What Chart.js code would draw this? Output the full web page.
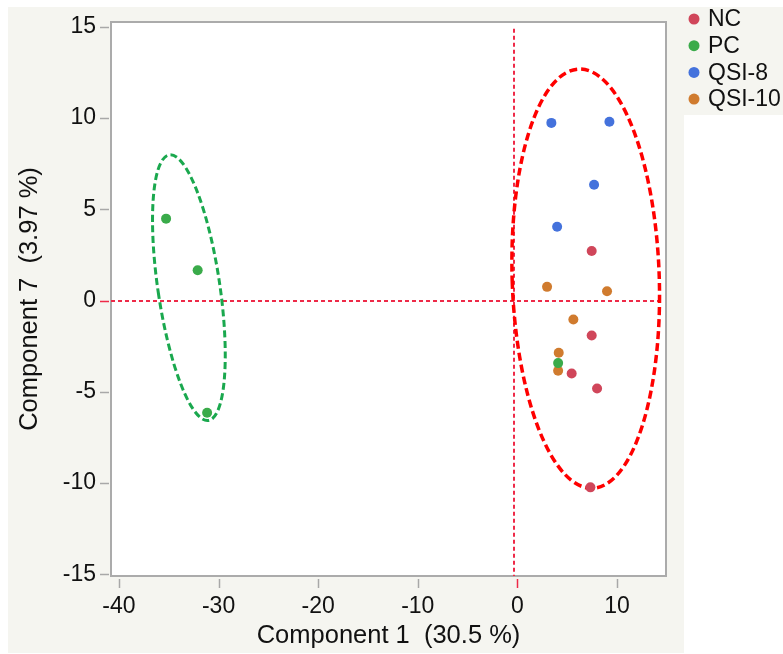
<!DOCTYPE html>
<html>
<head>
<meta charset="utf-8">
<script src="https://cdn.jsdelivr.net/npm/chart.js@4.4.1/dist/chart.umd.min.js"></script>
<style>
  html, body { margin: 0; padding: 0; background: #ffffff; }
  canvas { display: block; }
</style>
</head>
<body>
<canvas id="c" width="783" height="654"></canvas>
<script>
// ---- Data ----
const categories = ['NC', 'PC', 'QSI-8', 'QSI-10'];

const ncX = [7.46, 7.46, 5.45, 8.0, 7.33];
const ncY = [2.72, -1.92, -4.0, -4.82, -10.24];

const pcX = [-35.27, -32.1, -31.15, 4.09];
const pcY = [4.49, 1.66, -6.15, -3.43];

const qsi8X = [3.41, 9.24, 7.70, 3.99];
const qsi8Y = [9.74, 9.80, 6.35, 4.05];

const qsi10X = [2.98, 9.0, 5.62, 4.15, 4.09];
const qsi10Y = [0.75, 0.51, -1.04, -2.86, -3.85];

const xTicks = [-40, -30, -20, -10, 0, 10];
const yTicks = [-15, -10, -5, 0, 5, 10, 15];

// ellipses (center, major half-axis vector, minor half-axis vector), data units
const greenEllipseCenter = [-32.98, 0.71];
const greenEllipseMajor = [1.96, -7.28];
const greenEllipseMinor = [3.08, 0.246];

const redEllipseCenter = [6.86, 1.20];
const redEllipseMajor = [0.68, -11.49];
const redEllipseMinor = [7.38, 0.13];

// reference lines
const refLineX = -0.3;
const refLineXSpan = [-15.1, 14.9];
const refLineY = 0;
const refLineYSpan = [-40.8, 14.3];

// ---- Styles ----
const colors = ['#d0465a', '#3aab4a', '#4472dc', '#d07b2e'];
const FONT = '"Liberation Sans", Arial, Helvetica, sans-serif';
const TEXT = '#111111';

const seriesX = [ncX, pcX, qsi8X, qsi10X];
const seriesY = [ncY, pcY, qsi8Y, qsi10Y];

const datasets = categories.map((name, i) => ({
  label: name,
  data: seriesX[i].map((x, j) => ({ x: x, y: seriesY[i][j] })),
  backgroundColor: colors[i],
  borderColor: colors[i],
  borderWidth: 0,
  pointRadius: 5,
  pointHoverRadius: 5
}));

const bgPlugin = {
  id: 'bg',
  beforeDraw(chart) {
    const ctx = chart.ctx;
    const a = chart.chartArea;
    ctx.save();
    ctx.fillStyle = '#ffffff';
    ctx.fillRect(0, 0, chart.width, chart.height);
    ctx.fillStyle = '#f5f5f0';
    ctx.fillRect(8, 7, 676, 646);
    ctx.fillRect(684, 7, 99, 108);
    ctx.fillStyle = '#ffffff';
    ctx.fillRect(a.left, a.top, a.right - a.left, a.bottom - a.top);
    ctx.restore();
  }
};

function drawEllipse(chart, c, u, v, color, width, dash) {
  const xs = chart.scales.x, ys = chart.scales.y;
  const cx = xs.getPixelForValue(c[0]), cy = ys.getPixelForValue(c[1]);
  const ux = xs.getPixelForValue(c[0] + u[0]) - cx, uy = ys.getPixelForValue(c[1] + u[1]) - cy;
  const vx = xs.getPixelForValue(c[0] + v[0]) - cx, vy = ys.getPixelForValue(c[1] + v[1]) - cy;
  const ctx = chart.ctx;
  ctx.save();
  ctx.beginPath();
  ctx.save();
  ctx.transform(ux, uy, vx, vy, cx, cy);
  ctx.arc(0, 0, 1, -Math.PI / 2, Math.PI * 1.5);
  ctx.restore();
  ctx.strokeStyle = color;
  ctx.lineWidth = width;
  ctx.setLineDash(dash);
  ctx.stroke();
  ctx.restore();
}

const overlayPlugin = {
  id: 'overlay',
  beforeDatasetsDraw(chart) {
    const ctx = chart.ctx;
    const xs = chart.scales.x, ys = chart.scales.y;
    const a = chart.chartArea;
    // box border
    ctx.save();
    ctx.strokeStyle = '#ababab';
    ctx.lineWidth = 2;
    ctx.strokeRect(a.left, a.top, a.right - a.left, a.bottom - a.top);
    // tick marks
    ctx.lineWidth = 1.5;
    xTicks.forEach(v => {
      const px = Math.round(xs.getPixelForValue(v)) + 0.5;
      ctx.strokeStyle = v === 0 ? '#ee2a48' : '#a8a8a8';
      ctx.beginPath();
      ctx.moveTo(px, a.bottom + 3);
      ctx.lineTo(px, a.bottom + 12);
      ctx.stroke();
    });
    yTicks.forEach(v => {
      const py = Math.round(ys.getPixelForValue(v)) + 0.5;
      ctx.strokeStyle = v === 0 ? '#ee2a48' : '#a8a8a8';
      ctx.beginPath();
      ctx.moveTo(a.left - 2, py);
      ctx.lineTo(a.left - 11, py);
      ctx.stroke();
    });
    // reference lines
    ctx.strokeStyle = '#ee2a48';
    ctx.lineWidth = 2;
    ctx.setLineDash([4, 3]);
    const rx = Math.round(xs.getPixelForValue(refLineX));
    ctx.beginPath();
    ctx.moveTo(rx, ys.getPixelForValue(refLineXSpan[1]));
    ctx.lineTo(rx, ys.getPixelForValue(refLineXSpan[0]));
    ctx.stroke();
    const ry = Math.round(ys.getPixelForValue(refLineY));
    ctx.beginPath();
    ctx.moveTo(xs.getPixelForValue(refLineYSpan[0]), ry);
    ctx.lineTo(xs.getPixelForValue(refLineYSpan[1]), ry);
    ctx.stroke();
    ctx.restore();
    // ellipses
    drawEllipse(chart, greenEllipseCenter, greenEllipseMajor, greenEllipseMinor, '#1aa84e', 3, [7, 3.5]);
    drawEllipse(chart, redEllipseCenter, redEllipseMajor, redEllipseMinor, '#ff0000', 3.5, [8, 4]);
  }
};

const legendPlugin = {
  id: 'customLegend',
  afterDraw(chart) {
    const ctx = chart.ctx;
    ctx.save();
    ctx.font = '23px ' + FONT;
    ctx.textBaseline = 'middle';
    ctx.textAlign = 'left';
    chart.data.datasets.forEach((ds, i) => {
      const y = 19 + i * 26.7;
      ctx.fillStyle = ds.backgroundColor;
      ctx.beginPath();
      ctx.arc(694, y, 5.5, 0, Math.PI * 2);
      ctx.fill();
      ctx.fillStyle = TEXT;
      ctx.fillText(ds.label, 708, y + 1);
    });
    ctx.restore();
  }
};

new Chart(document.getElementById('c'), {
  type: 'scatter',
  data: { datasets: datasets },
  options: {
    responsive: false,
    animation: false,
    devicePixelRatio: 1,
    layout: { padding: { left: 0, top: 22, right: 117, bottom: 0 } },
    plugins: { legend: { display: false }, tooltip: { enabled: false } },
    scales: {
      x: {
        type: 'linear',
        min: -40.8,
        max: 14.92,
        grid: { display: false, drawTicks: false },
        border: { display: false },
        afterBuildTicks: s => { s.ticks = xTicks.map(v => ({ value: v })); },
        afterFit: s => { s.height = 78; s.paddingLeft = 0; s.paddingRight = 0; },
        ticks: { color: TEXT, font: { family: FONT, size: 23 }, padding: 17 },
        title: {
          display: true,
          text: 'Component 1  (30.5 %)',
          color: TEXT,
          font: { family: FONT, size: 25.5 },
          padding: { top: 0, bottom: 3 }
        }
      },
      y: {
        type: 'linear',
        min: -15.1,
        max: 15.27,
        grid: { display: false, drawTicks: false },
        border: { display: false },
        afterBuildTicks: s => { s.ticks = yTicks.map(v => ({ value: v })); },
        afterFit: s => { s.width = 111; s.paddingTop = 0; s.paddingBottom = 0; },
        ticks: { color: TEXT, font: { family: FONT, size: 23 }, padding: 15 },
        title: {
          display: true,
          text: 'Component 7  (3.97 %)',
          color: TEXT,
          font: { family: FONT, size: 25.5 },
          padding: { top: 15, bottom: 0 }
        }
      }
    }
  },
  plugins: [bgPlugin, overlayPlugin, legendPlugin]
});
</script>
</body>
</html>
